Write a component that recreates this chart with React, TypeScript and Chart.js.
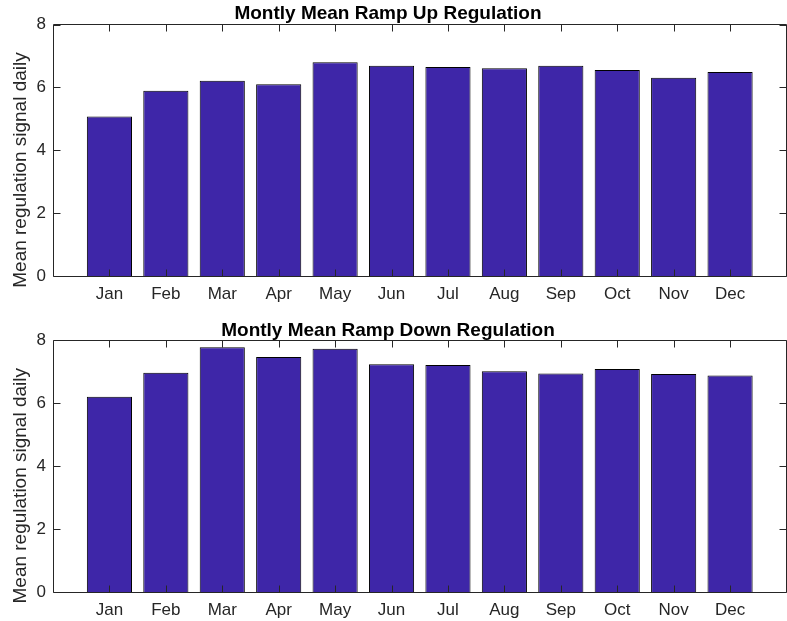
import React, { useEffect, useRef } from "react";
import { Chart, registerables } from "chart.js";

Chart.register(...registerables);

const months = ["Jan", "Feb", "Mar", "Apr", "May", "Jun", "Jul", "Aug", "Sep", "Oct", "Nov", "Dec"];
const rampUp = [5.07, 5.89, 6.21, 6.1, 6.8, 6.69, 6.65, 6.61, 6.69, 6.55, 6.31, 6.49];
const rampDown = [6.2, 6.96, 7.77, 7.46, 7.72, 7.23, 7.21, 7.01, 6.94, 7.08, 6.92, 6.87];
const yTicks = [0, 2, 4, 6, 8];
const titleUp = "Montly Mean Ramp Up Regulation";
const titleDown = "Montly Mean Ramp Down Regulation";
const yLabel = "Mean regulation signal daily";

const FONT = "'Liberation Sans', Arial, Helvetica, sans-serif";
const AXIS = "#262626";

const matlabBox = {
  id: "matlabBox",
  afterDraw(chart: any, _args: any, opts: any) {
    const { ctx, chartArea, scales } = chart;
    const { left, right, top, bottom } = chartArea;
    const L = Math.floor(left) + 0.5;
    const R = Math.floor(right) + 0.5;
    const T = Math.floor(top) + 0.5;
    const B = Math.floor(bottom) + 0.5;
    ctx.save();
    ctx.strokeStyle = AXIS;
    ctx.lineWidth = 1;
    ctx.beginPath();
    ctx.rect(L, T, R - L, B - T);
    const tl = 7;
    scales.x.ticks.forEach((t: any) => {
      const px = Math.round(scales.x.getPixelForValue(t.value)) + 0.5;
      ctx.moveTo(px, B);
      ctx.lineTo(px, B - tl);
      ctx.moveTo(px, T);
      ctx.lineTo(px, T + tl);
    });
    scales.y.ticks.forEach((t: any) => {
      const py = Math.round(scales.y.getPixelForValue(t.value)) + 0.5;
      ctx.moveTo(L, py);
      ctx.lineTo(L + tl, py);
      ctx.moveTo(R, py);
      ctx.lineTo(R - tl, py);
    });
    ctx.stroke();
    // title
    ctx.fillStyle = "#000";
    ctx.font = `bold 19px ${FONT}`;
    ctx.textAlign = "center";
    ctx.textBaseline = "alphabetic";
    ctx.fillText(opts.text, opts.x, opts.baseline);
    // y label
    ctx.save();
    ctx.translate(opts.yLabelX, (top + bottom) / 2 + opts.yLabelShift);
    ctx.rotate(-Math.PI / 2);
    ctx.fillStyle = AXIS;
    ctx.font = `19px ${FONT}`;
    ctx.textAlign = "center";
    ctx.textBaseline = "middle";
    ctx.fillText(yLabel, 0, 0);
    ctx.restore();
    ctx.restore();
  },
};

function makeConfig(values: number[], title: string, topPad: number, xHeight: number, baseline: number) {
  return {
    type: "bar" as const,
    data: {
      datasets: [
        {
          data: values.map((v, i) => ({ x: i + 1, y: v })),
          backgroundColor: "#3E26A8",
          borderColor: "#000000",
          borderWidth: 1,
          barPercentage: 0.8,
          categoryPercentage: 1,
        },
      ],
    },
    options: {
      animation: false,
      responsive: false,
      maintainAspectRatio: false,
      events: [],
      layout: { padding: { top: topPad, right: 0.5, left: 0, bottom: 0 } },
      plugins: {
        legend: { display: false },
        tooltip: { enabled: false },
        title: { display: false },
        matlabBox: { text: title, x: 388, baseline, yLabelX: 20.5, yLabelShift: 19.75 },
      },
      scales: {
        x: {
          type: "linear",
          min: 0,
          max: 13,
          offset: false,
          grid: { display: false, drawTicks: false },
          border: { display: false },
          afterBuildTicks: (scale: any) => {
            scale.ticks = months.map((_, i) => ({ value: i + 1 }));
          },
          afterFit: (scale: any) => {
            scale.height = xHeight;
          },
          ticks: {
            autoSkip: false,
            maxRotation: 0,
            padding: 8,
            color: AXIS,
            font: { family: FONT, size: 17 },
            callback: (v: any) => months[Math.round(v) - 1] ?? "",
          },
        },
        y: {
          min: 0,
          max: 8,
          grid: { display: false, drawTicks: false },
          border: { display: false },
          afterBuildTicks: (scale: any) => {
            scale.ticks = yTicks.map((v) => ({ value: v }));
          },
          afterFit: (scale: any) => {
            scale.width = 53;
          },
          ticks: {
            padding: 7,
            color: AXIS,
            font: { family: FONT, size: 17 },
          },
        },
      },
    },
    plugins: [matlabBox],
  };
}

function BarPanel(props: { values: number[]; title: string; height: number; topPad: number; xHeight: number; baseline: number }) {
  const ref = useRef<HTMLCanvasElement | null>(null);
  useEffect(() => {
    if (!ref.current) return;
    const chart = new Chart(ref.current, makeConfig(props.values, props.title, props.topPad, props.xHeight, props.baseline) as any);
    return () => chart.destroy();
  }, []);
  return <canvas ref={ref} width={787} height={props.height} style={{ display: "block", width: 787, height: props.height }} />;
}

export default function App() {
  return (
    <div style={{ position: "absolute", left: 0, top: 0, width: 787, height: 621, background: "#fff" }}>
      <BarPanel values={rampUp} title={titleUp} height={310} topPad={24.5} xHeight={34} baseline={19} />
      <BarPanel values={rampDown} title={titleDown} height={311} topPad={30} xHeight={29} baseline={26} />
    </div>
  );
}
